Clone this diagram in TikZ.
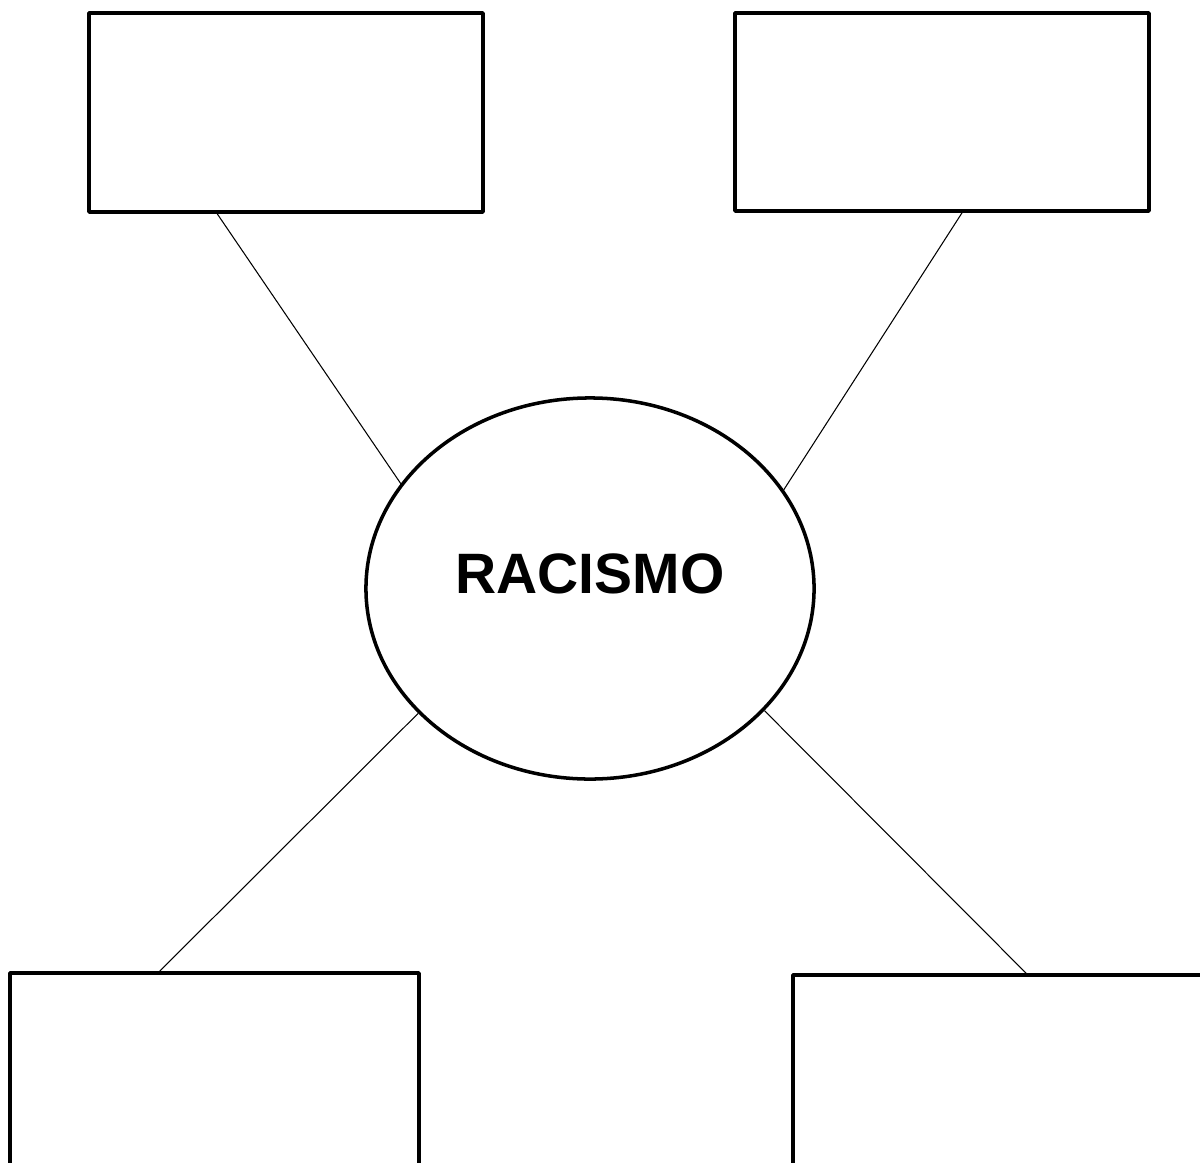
\documentclass[tikz,border=0pt]{standalone}
\usepackage{fontspec}
\setmainfont{Liberation Sans}
\usetikzlibrary{shapes.geometric,calc}
\begin{document}
\begin{tikzpicture}[
  x=0.025cm, y=-0.025cm,
  caixa/.style={draw, line width=2.5pt, line join=round, inner sep=0pt},
  centro/.style={draw, ellipse, line width=2.5pt, inner sep=0pt, minimum width=11.2cm, minimum height=9.525cm,
    font=\fontsize{40.5}{48}\selectfont\bfseries, text depth=0.75cm},
  liga/.style={line width=0.75pt}
]
  % moldura
  \useasboundingbox (0,0) rectangle (1200,1162);
  \clip (0,0) rectangle (1200,1162);
  % nós
  \node[centro] (rac) at (590,588.5) {RACISMO};
  \node[caixa, minimum width=9.85cm, minimum height=4.975cm] (c1) at (286,112.5) {};
  \node[caixa, minimum width=10.35cm, minimum height=4.95cm] (c2) at (942,112) {};
  \node[caixa, minimum width=10.225cm, minimum height=5cm] (c3) at (214.5,1073) {};
  \node[caixa, minimum width=10.25cm, minimum height=5cm] (c4) at (998,1075) {};
  % linhas
  \draw[liga] ($(c1.south west)!0.327!(c1.south east)$) -- (rac.151);
  \draw[liga] ($(c2.south west)!0.548!(c2.south east)$) -- (rac.27.5);
  \draw[liga] ($(c3.north west)!0.367!(c3.north east)$) -- (rac.216);
  \draw[liga] ($(c4.north west)!0.568!(c4.north east)$) -- (rac.325);
\end{tikzpicture}
\end{document}
